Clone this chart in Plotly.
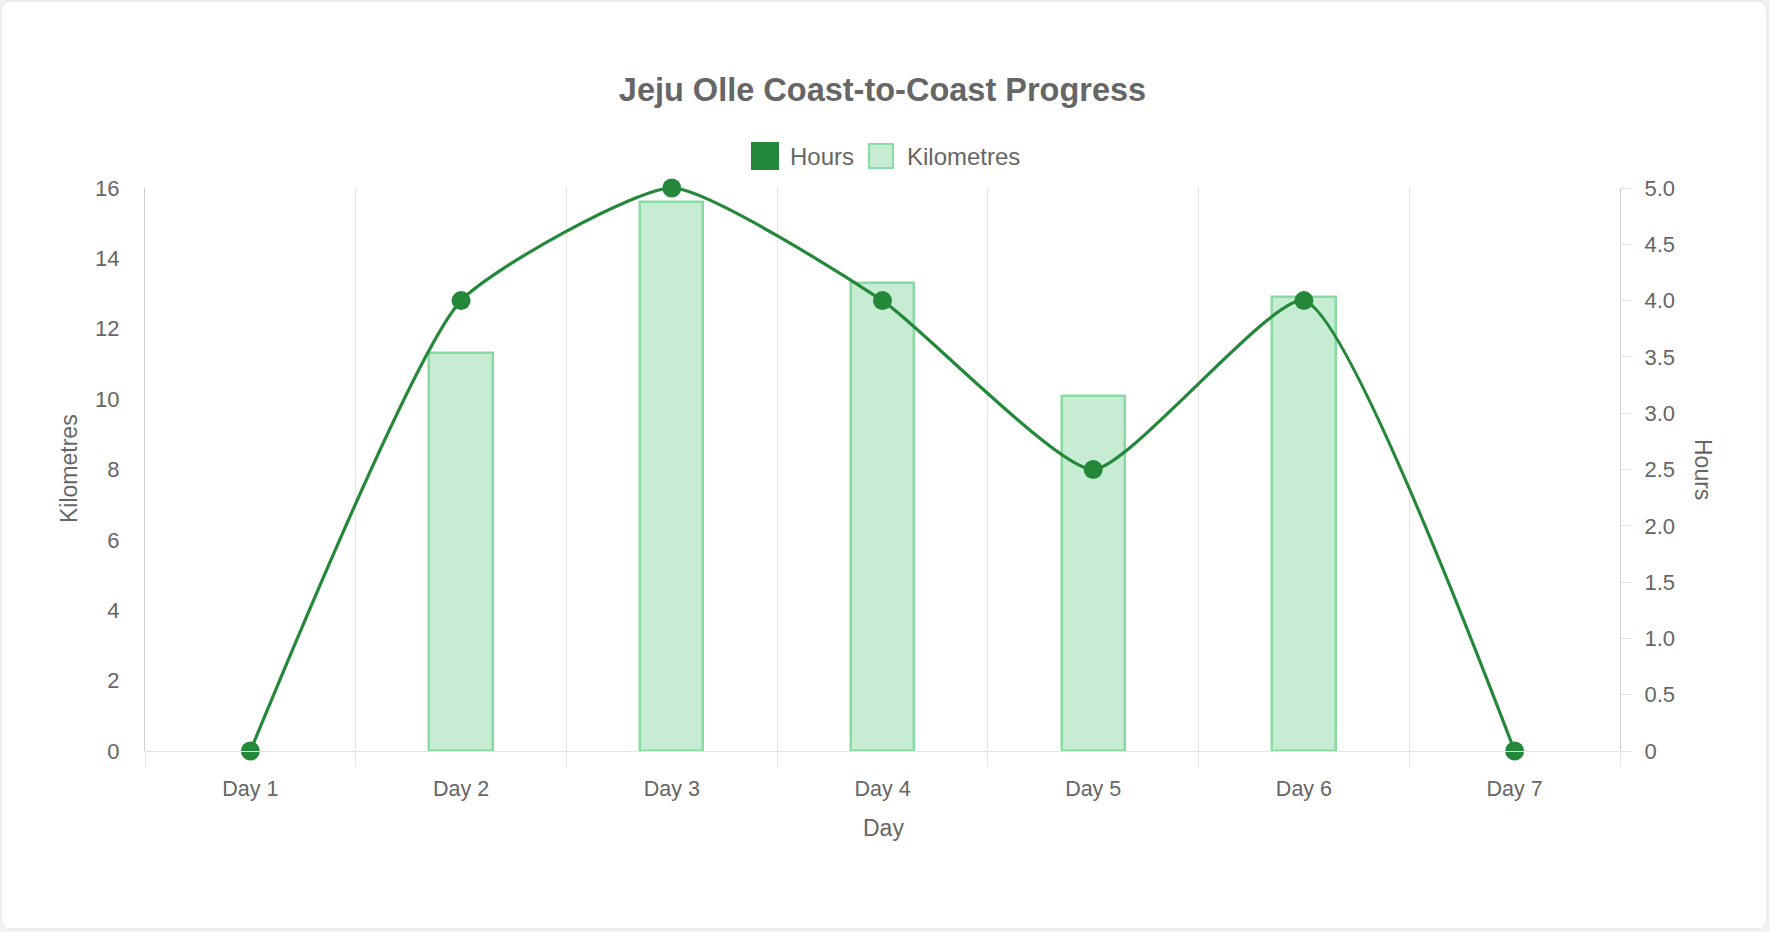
import plotly.graph_objects as go

# ---------------- data ----------------
days = ["Day 1", "Day 2", "Day 3", "Day 4", "Day 5", "Day 6", "Day 7"]
kilometres = [0, 11.3, 15.6, 13.3, 10.1, 12.9, 0]
hours = [0, 4.0, 5.0, 4.0, 2.5, 4.0, 0]
km_ticks = [0, 2, 4, 6, 8, 10, 12, 14, 16]
hour_tickvals = [0, 0.5, 1.0, 1.5, 2.0, 2.5, 3.0, 3.5, 4.0, 4.5, 5.0]
hour_ticktext = ["0", "0.5", "1.0", "1.5", "2.0", "2.5", "3.0", "3.5", "4.0", "4.5", "5.0"]

# ---------------- style ----------------
FIG_W, FIG_H = 1770, 932
ML, MR, MT, MB = 145, 150, 188, 181
PW, PH = FIG_W - ML - MR, FIG_H - MT - MB
FONT = "Liberation Sans, Helvetica Neue, Helvetica, Arial, sans-serif"
TXT = "#666666"
DARK = "rgb(36,136,58)"
BAR_FILL = "#c6ecd3"
BAR_LINE = "#8adba3"
GRID = "#e4e4e4"
AXIS = "#cfcfcf"


def px(x):
    return (x - ML) / PW


def py(y):
    return (FIG_H - MB - y) / PH


fig = go.Figure()

fig.add_trace(go.Bar(
    x=days, y=kilometres, name="Kilometres", yaxis="y",
    width=0.3,
    marker=dict(color=BAR_FILL,
                line=dict(color=BAR_LINE, width=[2.5 if v else 0 for v in kilometres])),
    showlegend=False,
))

fig.add_trace(go.Scatter(
    x=days, y=hours, name="Hours", yaxis="y2",
    mode="lines+markers",
    line=dict(color=DARK, width=3.2, shape="spline", smoothing=0.5),
    marker=dict(color=DARK, size=19),
    cliponaxis=False,
    showlegend=False,
))

# card background with rounded corners
r = 10
x0, x1, y0, y1 = 1, 1767, 1, 929
card_path = (
    f"M{px(x0 + r)},{py(y0)} L{px(x1 - r)},{py(y0)} Q{px(x1)},{py(y0)} {px(x1)},{py(y0 + r)} "
    f"L{px(x1)},{py(y1 - r)} Q{px(x1)},{py(y1)} {px(x1 - r)},{py(y1)} "
    f"L{px(x0 + r)},{py(y1)} Q{px(x0)},{py(y1)} {px(x0)},{py(y1 - r)} "
    f"L{px(x0)},{py(y0 + r)} Q{px(x0)},{py(y0)} {px(x0 + r)},{py(y0)} Z"
)

shapes = [
    dict(type="path", xref="paper", yref="paper", path=card_path,
         fillcolor="white", line=dict(color="#e2e2e2", width=1), layer="below"),
    # legend boxes
    dict(type="rect", xref="paper", yref="paper",
         x0=px(751), x1=px(779), y0=py(170), y1=py(142),
         fillcolor=DARK, line=dict(width=0)),
    dict(type="rect", xref="paper", yref="paper",
         x0=px(869), x1=px(893), y0=py(168), y1=py(144),
         fillcolor=BAR_FILL, line=dict(color=BAR_LINE, width=2)),
]

annotations = [
    dict(text="Hours", xref="paper", yref="paper", x=px(788), y=py(156),
         xanchor="left", yanchor="middle", showarrow=False,
         font=dict(size=24, color=TXT, family=FONT)),
    dict(text="Kilometres", xref="paper", yref="paper", x=px(905), y=py(156),
         xanchor="left", yanchor="middle", showarrow=False,
         font=dict(size=24, color=TXT, family=FONT)),
    dict(text="Kilometres", xref="paper", yref="paper", x=px(69), y=py(469),
         xanchor="center", yanchor="middle", showarrow=False, textangle=-90,
         font=dict(size=23, color=TXT, family=FONT)),
    dict(text="Hours", xref="paper", yref="paper", x=px(1703), y=py(469),
         xanchor="center", yanchor="middle", showarrow=False, textangle=90,
         font=dict(size=23, color=TXT, family=FONT)),
    dict(text="Day", xref="paper", yref="paper", x=px(883), y=py(828),
         xanchor="center", yanchor="middle", showarrow=False,
         font=dict(size=23, color=TXT, family=FONT)),
]

fig.update_layout(
    width=FIG_W, height=FIG_H,
    margin=dict(l=ML, r=MR, t=MT, b=MB, pad=0),
    paper_bgcolor="#f3f3f3",
    plot_bgcolor="rgba(0,0,0,0)",
    font=dict(family=FONT, color=TXT, size=22),
    title=dict(text="Jeju Olle Coast-to-Coast Progress", x=0.5, xref="paper",
               y=1 - 90 / FIG_H, yref="container", xanchor="center", yanchor="middle",
               font=dict(size=32.5, color=TXT, family=FONT, weight="bold")),
    showlegend=False,
    bargap=0,
    xaxis=dict(
        type="category", categoryorder="array", categoryarray=days,
        range=[-0.5, len(days) - 0.5],
        tickson="boundaries", ticks="outside", ticklen=15, tickwidth=1, tickcolor=GRID,
        showgrid=True, gridcolor=GRID, gridwidth=1,
        showline=True, linecolor=GRID, linewidth=1,
        tickfont=dict(size=21.5, color=TXT), ticklabelstandoff=18,
        fixedrange=True,
    ),
    yaxis=dict(
        range=[0, 16], tickvals=km_ticks,
        showgrid=False, zeroline=False,
        showline=True, linecolor=AXIS, linewidth=1,
        ticks="", ticklabelstandoff=20,
        tickfont=dict(size=22, color=TXT),
    ),
    yaxis2=dict(
        range=[0, 5], overlaying="y", side="right",
        tickvals=hour_tickvals, ticktext=hour_ticktext,
        showgrid=False, zeroline=False,
        showline=True, linecolor=AXIS, linewidth=1,
        ticks="outside", ticklen=11, tickcolor=GRID, tickwidth=1,
        ticklabelstandoff=8,
        tickfont=dict(size=22, color=TXT),
    ),
    shapes=shapes,
    annotations=annotations,
)

fig.write_html("out.html")
